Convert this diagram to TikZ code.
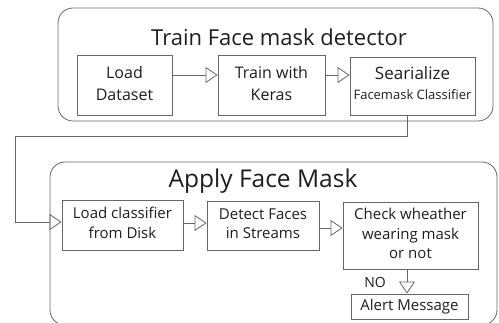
\documentclass[tikz,border=0pt]{standalone}
\usepackage{fontspec}
\setmainfont{Open Sans}
\usetikzlibrary{arrows.meta}
\definecolor{linegray}{HTML}{666666}
\definecolor{txt}{HTML}{1E1E1E}
\tikzset{
  stepbox/.style={draw=linegray, line width=0.8pt, inner sep=0pt, align=center, text=txt},
  container/.style={draw=linegray, line width=0.8pt, rounded corners=15pt, inner sep=0pt},
  ttl/.style={text=txt, inner sep=0pt, anchor=base},
  arr/.style={draw=linegray, line width=0.8pt, -{Triangle[open, length=12pt, width=16pt]}},
  conn/.style={draw=linegray, line width=0.8pt}
}
\begin{document}
\begin{tikzpicture}[x=1pt, y=-1pt]
\useasboundingbox (0,0) rectangle (499,323);
\begin{scope}
\clip (0,0) rectangle (499,323);
\node[container, minimum width=435pt, minimum height=113pt] (top) at (275.5,64.5) {};
\node[container, minimum width=447pt, minimum height=163pt] (bot) at (273.5,243.5) {};
\end{scope}
\node[ttl, font=\fontsize{22}{24}\selectfont] (ttitle) at (279,46) {Train Face mask detector};
\node[ttl, font=\fontsize{24.5}{26}\selectfont] (atitle) at (263,188) {Apply Face Mask};

\node[stepbox, minimum width=95pt, minimum height=60pt] (ld) at (124.5,85)
  {\raisebox{2.4pt}{\fontsize{16}{22}\selectfont\begin{tabular}{@{}c@{}}Load\\Dataset\end{tabular}}};
\node[stepbox, minimum width=107pt, minimum height=60pt] (tk) at (271.5,85)
  {\raisebox{2.4pt}{\fontsize{16}{22}\selectfont\begin{tabular}{@{}c@{}}Train with\\Keras\end{tabular}}};
\node[stepbox, minimum width=125pt, minimum height=58pt] (ser) at (412.5,86)
  {\raisebox{7pt}{\fontsize{17}{20}\selectfont\begin{tabular}{@{}c@{}}Searialize\\{\fontsize{13}{15}\selectfont Facemask Classifier}\end{tabular}}};

\node[stepbox, minimum width=121pt, minimum height=50pt] (lc) at (122.5,225)
  {\raisebox{-1pt}{\fontsize{15}{20}\selectfont\begin{tabular}{@{}c@{}}Load classifier\\from Disk\end{tabular}}};
\node[stepbox, minimum width=112pt, minimum height=49pt] (df) at (263,225.5)
  {\raisebox{-2.5pt}{\fontsize{15}{19}\selectfont\begin{tabular}{@{}c@{}}Detect Faces\\in Streams\end{tabular}}};
\node[stepbox, minimum width=135pt, minimum height=67pt] (cw) at (410.5,235.5)
  {\raisebox{-6pt}{\fontsize{15}{19.5}\selectfont\begin{tabular}{@{}c@{}}Check wheather\\wearing mask\\or not\end{tabular}}};
\node[stepbox, minimum width=117pt, minimum height=25pt] (am) at (409.5,306.5)
  {\fontsize{15}{18}\selectfont Alert Message};
\node[ttl, font=\fontsize{14}{16}\selectfont] (no) at (375,288) {NO};

\coordinate (c1) at (15,136);
\draw[arr] ([yshift=10pt]ld.east) -- ([yshift=10pt]tk.west);
\draw[arr] ([yshift=10pt]tk.east) -- ([yshift=11pt]ser.west);
\draw[conn] ([xshift=-5.5pt]ser.south) |- (c1);
\draw[arr] (c1) |- ([yshift=3pt]lc.west);
\draw[arr] ([yshift=2pt]lc.east) -- ([yshift=2.5pt]df.west);
\draw[arr] ([yshift=-2.5pt]df.east) -- ([yshift=7.5pt]cw.west);
\draw[arr] ([xshift=-3.5pt]cw.south) -- ([xshift=-2.5pt]am.north);
\end{tikzpicture}
\end{document}
